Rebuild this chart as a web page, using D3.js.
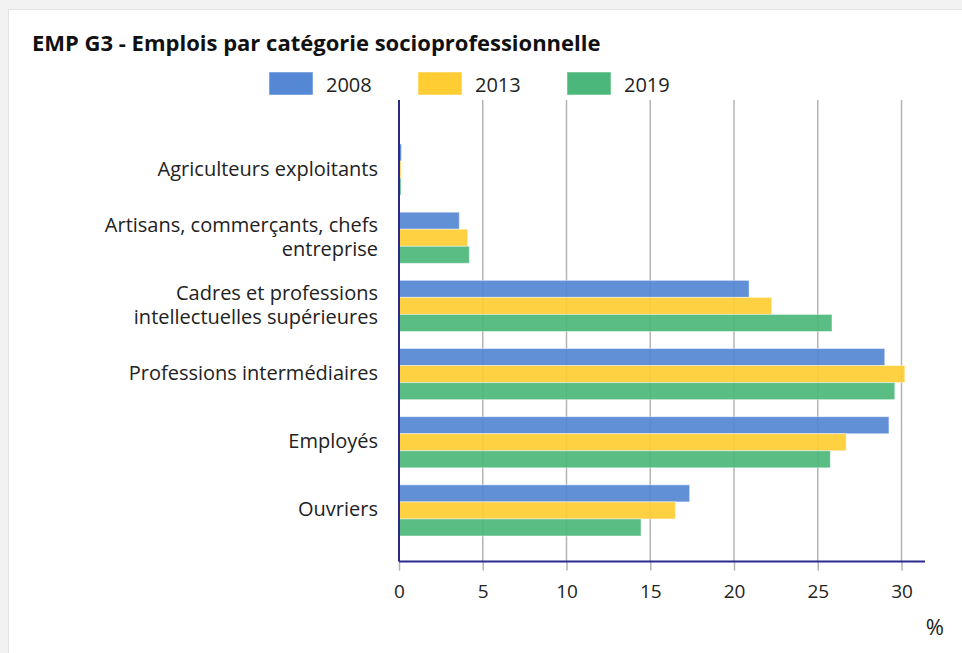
<!DOCTYPE html>
<html><head><meta charset="utf-8">
<script src="https://cdn.jsdelivr.net/npm/d3@7/dist/d3.min.js"></script>
<style>
html,body{margin:0;padding:0;background:#f2f2f2;}
svg{display:block;font-family:"Open Sans",sans-serif;}
</style></head>
<body>
<svg id="c" width="962" height="653"></svg>
<script>
const categories = [
  ["Agriculteurs exploitants"],
  ["Artisans, commerçants, chefs", "entreprise"],
  ["Cadres et professions", "intellectuelles supérieures"],
  ["Professions intermédiaires"],
  ["Employés"],
  ["Ouvriers"]
];
const seriesNames = ["2008", "2013", "2019"];
const values2008 = [0.15, 3.6, 20.9, 29.0, 29.25, 17.35];
const values2013 = [0.12, 4.1, 22.25, 30.2, 26.7, 16.5];
const values2019 = [0.12, 4.2, 25.85, 29.6, 25.75, 14.45];
const xTicks = [0, 5, 10, 15, 20, 25, 30];
const colors = ["#5487d4", "#fecd33", "#4cb77a"];
const series = [values2008, values2013, values2019];

const svg = d3.select("#c");
// card
svg.append("rect").attr("x", 8.5).attr("y", 9.5).attr("width", 960).attr("height", 650)
  .attr("fill", "#fff").attr("stroke", "#e2e2e2");

svg.append("text").attr("x", 32).attr("y", 51).attr("font-size", 22).attr("font-weight", 700)
  .attr("fill", "#111").text("EMP G3 - Emplois par catégorie socioprofessionnelle");

// legend
const legX = [269, 418, 567];
seriesNames.forEach((s, i) => {
  svg.append("rect").attr("x", legX[i]).attr("y", 72).attr("width", 44).attr("height", 23)
    .attr("fill", colors[i]).attr("stroke", "rgba(255,255,255,0.5)");
  svg.append("text").attr("x", legX[i] + 57).attr("y", 92).attr("font-size", 20)
    .attr("fill", "#222").text(s);
});

const x = d3.scaleLinear().domain([0, 30]).range([399, 901.5]);
const catIdx = categories.map((c, i) => i);
const y = d3.scaleBand().domain(catIdx).range([135.5, 544.5]).paddingInner(0.25).paddingOuter(0.125);
const yInner = d3.scaleBand().domain(d3.range(3)).range([0, y.bandwidth()]);

const plotTop = 100, plotBottom = 561.5, axisEnd = 925;

// gridlines
svg.append("g").selectAll("line").data(xTicks.filter(t => t > 0)).join("line")
  .attr("x1", d => x(d)).attr("x2", d => x(d)).attr("y1", plotTop).attr("y2", plotBottom)
  .attr("stroke", "#b4b4b4").attr("stroke-width", 1.5);

// bars
series.forEach((vals, si) => {
  svg.append("g").selectAll("rect").data(vals).join("rect")
    .attr("x", x(0)).attr("y", (d, i) => y(i) + yInner(si))
    .attr("width", d => x(d) - x(0)).attr("height", yInner.bandwidth())
    .attr("fill", colors[si]).attr("fill-opacity", 0.92)
    .attr("stroke", "rgba(255,255,255,0.45)").attr("stroke-width", 1);
});

// x axis
const xAxis = svg.append("g").attr("transform", `translate(0,${plotBottom})`)
  .call(d3.axisBottom(x).tickValues(xTicks).tickSize(9).tickPadding(14).tickFormat(d3.format("d")));
xAxis.select(".domain").remove();
xAxis.selectAll(".tick line").attr("stroke", "#b4b4b4").attr("stroke-width", 1.5);
xAxis.selectAll(".tick text").attr("font-size", 19).attr("fill", "#222")
  .attr("font-family", "Open Sans, sans-serif");

// axis lines
svg.append("line").attr("x1", 399).attr("x2", axisEnd).attr("y1", plotBottom).attr("y2", plotBottom)
  .attr("stroke", "#2a2a8a").attr("stroke-width", 2);
svg.append("line").attr("x1", 399).attr("x2", 399).attr("y1", plotTop).attr("y2", plotBottom)
  .attr("stroke", "#2a2a8a").attr("stroke-width", 2);

// y labels
const lh = 24;
categories.forEach((lines, i) => {
  const cy = y(i) + y.bandwidth() / 2;
  const t = svg.append("text").attr("text-anchor", "end").attr("font-size", 20).attr("fill", "#222");
  lines.forEach((l, j) => {
    t.append("tspan").attr("x", 378)
      .attr("y", cy + 6 + (j - (lines.length - 1) / 2) * lh).text(l);
  });
});

svg.append("text").attr("x", 944).attr("y", 635).attr("text-anchor", "end").attr("font-size", 22)
  .attr("fill", "#222").text("%");
</script>
</body></html>
